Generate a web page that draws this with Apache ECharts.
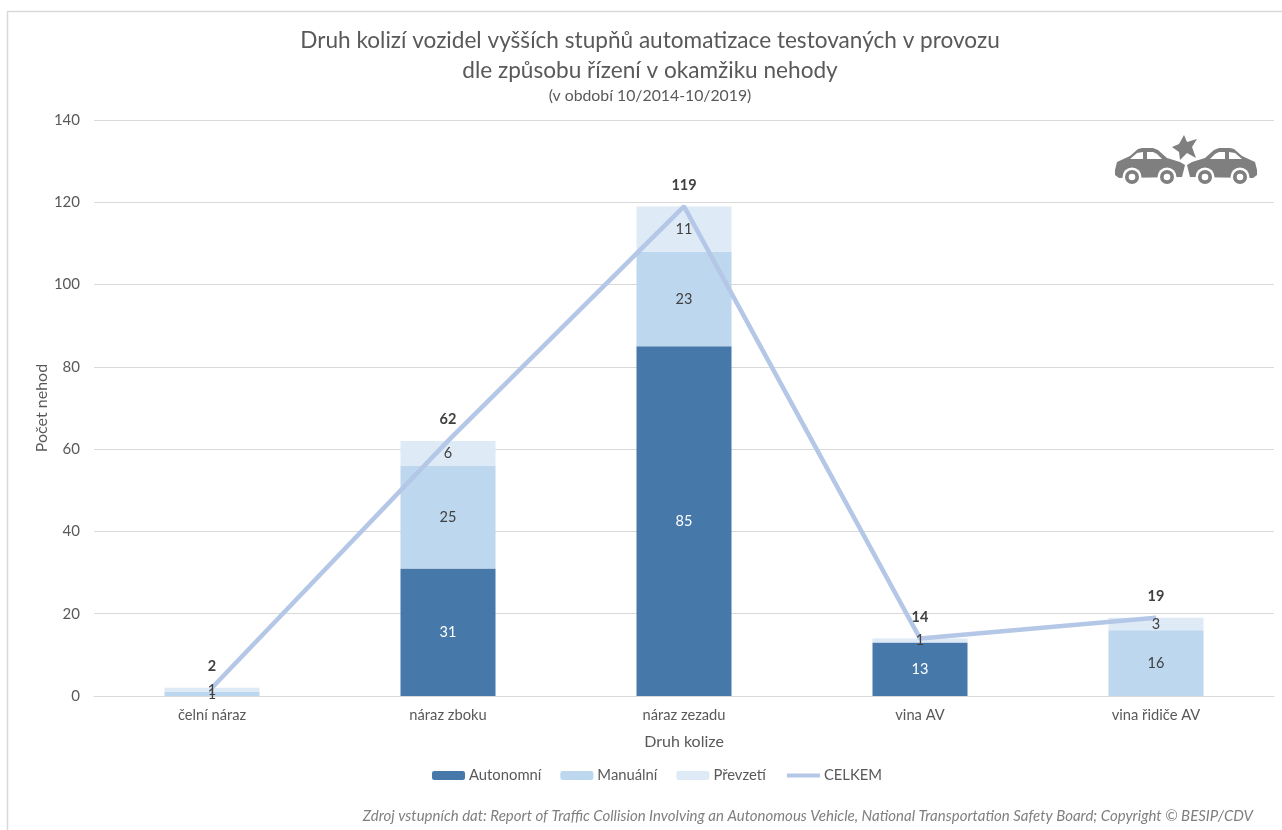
<!DOCTYPE html>
<html><head><meta charset="utf-8">
<script src="https://cdn.jsdelivr.net/npm/echarts@6/dist/echarts.min.js"></script>
<style>html,body{margin:0;padding:0;background:#fff}#c{width:1282px;height:830px}</style>
</head><body><div id="c"></div>
<script>
const categories = ['čelní náraz','náraz zboku','náraz zezadu','vina AV','vina řidiče AV'];
const autonomni = [0,31,85,13,0];
const manualni = [1,25,23,0,16];
const prevzeti = [1,6,11,1,3];
const celkem = [2,62,119,14,19];
const FONT = 'Lato';
const TXT = '#595959';
const chart = echarts.init(document.getElementById('c'), null, {renderer:'canvas'});
const hideZero = p => p.value === 0 ? '' : String(p.value);
const seg = (name, data, color) => ({
  name, type:'bar', stack:'a', data, barWidth:95, itemStyle:{color}, z:2
});
// labels sit above the total line, as in the reference
const labelSeg = (name, data, labelColor) => ({
  name:name + ' popisek', type:'bar', stack:'b', data, barWidth:95, barGap:'-100%', z:5,
  itemStyle:{color:'rgba(0,0,0,0)'},
  label:{show:true, position:'inside', color:labelColor, fontSize:14.5, fontFamily:FONT, formatter:hideZero}
});
const G = '#7f7f7f';
const poly = (points, fill) => ({type:'polygon', shape:{points}, style:{fill}, silent:true});
const bodyL = [[1115,170],[1117,162],[1130,156],[1138,149],[1142,148],[1153,148],[1158,150],[1167,158],[1180,162],[1185,165],[1182,177],[1119,178],[1115,175]];
const bodyR = bodyL.map(p => [2372 - p[0], p[1]]);
const winL = [[[1130,159],[1137,153],[1143,152],[1143,159]], [[1147,152],[1153,152],[1157,154],[1162,159],[1147,159]]];
const winR = winL.map(w => w.map(p => [2372 - p[0], p[1]]));
const star = [[1184,135],[1187,142],[1197,139],[1192,147],[1196,158],[1187,153],[1180,160],[1179,152],[1172,147],[1179,144]];
const wheel = cx => [
  {type:'circle', shape:{cx,cy:177,r:9.5}, style:{fill:'#fff'}, silent:true},
  {type:'circle', shape:{cx,cy:177,r:7}, style:{fill:G}, silent:true},
  {type:'circle', shape:{cx,cy:177,r:3.3}, style:{fill:'#fff'}, silent:true}
];
chart.setOption({
  animation:false,
  backgroundColor:'#fff',
  textStyle:{fontFamily:FONT},
  title:{
    text:'Druh kolizí vozidel vyšších stupňů automatizace testovaných v provozu\ndle způsobu řízení v okamžiku nehody',
    subtext:'(v období 10/2014-10/2019)',
    left:645, top:21, textAlign:'center', itemGap:2,
    textStyle:{fontFamily:FONT, fontSize:22.6, fontWeight:'normal', color:TXT, lineHeight:30},
    subtextStyle:{fontFamily:FONT, fontSize:15.8, color:TXT}
  },
  legend:{
    top:763, left:427, itemWidth:33, itemHeight:9, itemGap:19,
    textStyle:{fontFamily:FONT, fontSize:14.8, color:TXT, padding:[0,0,0,-1]},
    data:['Autonomní','Manuální','Převzetí',
      {name:'CELKEM', itemStyle:{opacity:0}, lineStyle:{width:4}}]
  },
  grid:{left:94, right:8, top:120, bottom:134},
  xAxis:{
    type:'category', data:categories,
    axisLine:{lineStyle:{color:'#d9d9d9'}}, axisTick:{show:false},
    axisLabel:{color:TXT, fontSize:14.7, fontFamily:FONT, margin:12},
    name:'Druh kolize', nameLocation:'middle', nameGap:38, nameMoveOverlap:false,
    nameTextStyle:{color:TXT, fontSize:16, fontFamily:FONT}
  },
  yAxis:{
    type:'value', min:0, max:140, interval:20,
    axisLine:{show:false}, axisTick:{show:false},
    splitLine:{lineStyle:{color:'#d9d9d9'}},
    axisLabel:{color:TXT, fontSize:15, fontFamily:FONT, margin:14},
    name:'Počet nehod', nameLocation:'middle', nameGap:44, nameMoveOverlap:false,
    nameTextStyle:{color:TXT, fontSize:16, fontFamily:FONT}
  },
  series:[
    seg('Autonomní', autonomni, '#4679a9'),
    seg('Manuální', manualni, '#bdd7ee'),
    seg('Převzetí', prevzeti, '#deeaf6'),
    {name:'CELKEM', type:'line', data:celkem, symbol:'circle', symbolSize:0, showSymbol:true, z:3,
     lineStyle:{color:'#b4c7e7', width:4.5}, itemStyle:{color:'#b4c7e7'},
     label:{show:true, position:'top', distance:14, color:'#404040', fontSize:14.5, fontWeight:'bold', fontFamily:FONT}},
    labelSeg('Autonomní', autonomni, '#ffffff'),
    labelSeg('Manuální', manualni, '#404040'),
    labelSeg('Převzetí', prevzeti, '#404040')
  ],
  graphic:[
    {type:'rect', shape:{x:7.5,y:11.5,width:1280,height:830}, style:{fill:'none',stroke:'#d9d9d9',lineWidth:1.5}, silent:true},
    {type:'text', style:{text:'Zdroj vstupních dat: Report of Traffic Collision Involving an Autonomous Vehicle, National Transportation Safety Board; Copyright © BESIP/CDV',
      x:1253, y:816, align:'right', verticalAlign:'middle', fill:'#7f7f7f', font:'italic 15px Lato'}, silent:true},
    poly(bodyL, G), poly(bodyR, G),
    ...winL.map(w => poly(w,'#fff')), ...winR.map(w => poly(w,'#fff')),
    poly(star, G),
    ...wheel(1132), ...wheel(1167), ...wheel(1205), ...wheel(1240)
  ]
});
</script></body></html>
